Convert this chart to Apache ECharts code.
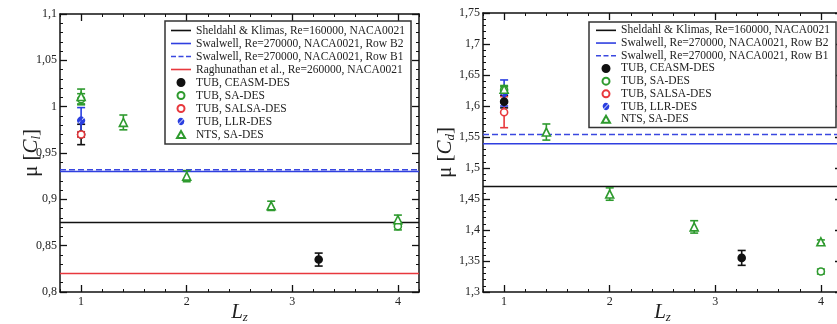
<!DOCTYPE html>
<html><head><meta charset="utf-8">
<script src="https://cdn.jsdelivr.net/npm/echarts@6/dist/echarts.min.js"></script>
<style>html,body{margin:0;padding:0;background:#fff}#c{width:837px;height:324px}</style>
</head><body><div id="c"></div>
<script>
// ---------- data ----------
const X_MIN = 0.8, X_MAX = 4.2;
const xTickValues = [1, 2, 3, 4];
const clYRange = [0.8, 1.1];
const cdYRange = [1.3, 1.75];
const yInterval = 0.05;

const refNames = [
  'Sheldahl & Klimas, Re=160000, NACA0021',
  'Swalwell, Re=270000, NACA0021, Row B2',
  'Swalwell, Re=270000, NACA0021, Row B1',
  'Raghunathan et al., Re=260000, NACA0021'
];
const clRefValues = [0.875, 0.930, 0.932, 0.820];
const cdRefValues = [1.470, 1.539, 1.554];

const pointNames = ['TUB, CEASM-DES', 'TUB, SA-DES', 'TUB, SALSA-DES', 'TUB, LLR-DES', 'NTS, SA-DES'];
// [Lz, mean, half error]
const clCEASM = [[1, 0.970, 0.011], [3.25, 0.835, 0.007]];
const clSA    = [[1, 1.008, 0.006], [4, 0.871, 0.004]];
const clSALSA = [[1, 0.970, 0.003]];
const clLLR   = [[1, 0.985, 0.014]];
const clNTS   = [[1, 1.011, 0.008], [1.4, 0.983, 0.008], [2, 0.925, 0.006], [2.8, 0.893, 0.005], [4, 0.878, 0.005]];

const cdCEASM = [[1, 1.607, 0.010], [3.25, 1.355, 0.012]];
const cdSA    = [[1, 1.626, 0.005], [4, 1.333, 0.004]];
const cdSALSA = [[1, 1.590, 0.025]];
const cdLLR   = [[1, 1.621, 0.021]];
const cdNTS   = [[1, 1.627, 0.006], [1.4, 1.558, 0.013], [2, 1.458, 0.010], [2.8, 1.405, 0.010], [4, 1.381, 0.003]];

// ---------- styles ----------
const FONT = "'Liberation Serif','Times New Roman',serif";
const TXT = '#222';
const SOLID_ICON = 'path://M0,0h20v1.6h-20z';
const DASH_ICON = 'path://M0,0h5v1.6h-5zM7.5,0h5v1.6h-5zM15,0h5v1.6h-5z';
const TRI_ICON = 'path://M4,0L8,7L0,7Z';
const SLASH_DISC = 'path://M1.161,8.203L8.203,1.161A5,5 0 0,0 1.161,8.203ZM8.839,1.797L1.797,8.839A5,5 0 0,0 8.839,1.797Z';
const refStyles = [
  {color: '#111', type: 'solid', icon: SOLID_ICON},
  {color: '#2f3fe0', type: 'solid', icon: SOLID_ICON},
  {color: '#3a48e0', type: 'dashed', icon: DASH_ICON},
  {color: '#e8383d', type: 'solid', icon: SOLID_ICON}
];
const pointStyles = [
  {symbol: 'circle', icon: 'circle', size: 7, fill: '#111', stroke: '#111', bw: 1.6, color: '#111'},
  {symbol: 'circle', icon: 'circle', size: 7, fill: '#fff', stroke: '#2e9a2e', bw: 1.6, color: '#2e9a2e'},
  {symbol: 'circle', icon: 'circle', size: 7, fill: '#fff', stroke: '#e8383d', bw: 1.6, color: '#e8383d'},
  {symbol: SLASH_DISC, icon: SLASH_DISC, size: 8, fill: '#2a3fe0', stroke: '#2a3fe0', bw: 0, color: '#2a3fe0'},
  {symbol: 'triangle', icon: TRI_ICON, size: 8, fill: '#fff', stroke: '#2e9a2e', bw: 1.6, color: '#2e9a2e'}
];

const fmt = v => String(+v.toFixed(2)).replace('.', ',');

function makeErr(color) {
  return function (params, api) {
    const x = api.value(0), y = api.value(1), e = api.value(2);
    const t = api.coord([x, y + e]), b = api.coord([x, y - e]);
    const hw = 4;
    const st = {stroke: color, lineWidth: 1.6, fill: null};
    return {type: 'group', children: [
      {type: 'line', shape: {x1: t[0], y1: t[1], x2: b[0], y2: b[1]}, style: st},
      {type: 'line', shape: {x1: t[0] - hw, y1: t[1], x2: t[0] + hw, y2: t[1]}, style: st},
      {type: 'line', shape: {x1: b[0] - hw, y1: b[1], x2: b[0] + hw, y2: b[1]}, style: st}
    ]};
  };
}

const grids = [
  {left: 60, top: 14, width: 359, height: 278, containLabel: false, outerBoundsMode: 'none'},
  {left: 483, top: 13, width: 359, height: 279, containLabel: false, outerBoundsMode: 'none'}
];

const xAxes = [], yAxes = [], series = [];
function axesFor(g, yr, yName) {
  const base = {type: 'value', gridIndex: g, min: X_MIN, max: X_MAX, splitLine: {show: false}};
  const lineStyle = {color: '#111', width: 1.5};
  xAxes.push(Object.assign({}, base, {position: 'bottom', interval: 0.2,
    axisLine: {show: true, lineStyle}, axisTick: {inside: true, length: 3, lineStyle: {color: '#111'}},
    axisLabel: {customValues: xTickValues, color: TXT, fontFamily: FONT, fontSize: 12, margin: 4},
    name: '{b|L}{s|z}', nameLocation: 'middle', nameGap: 9, nameMoveOverlap: false,
    nameTextStyle: {rich: {
      b: {fontFamily: FONT, fontSize: 21, fontStyle: 'italic', color: TXT, lineHeight: 22},
      s: {fontFamily: FONT, fontSize: 13, fontStyle: 'italic', color: TXT, lineHeight: 14, padding: [12, 0, 0, 0]}
    }}}));
  xAxes.push(Object.assign({}, base, {position: 'bottom', interval: 0.2,
    axisLine: {show: false}, axisTick: {inside: true, length: 7, customValues: xTickValues, lineStyle: {color: '#111', width: 1.3}},
    axisLabel: {show: false}}));
  xAxes.push(Object.assign({}, base, {position: 'top', interval: 0.2,
    axisLine: {show: true, lineStyle}, axisTick: {inside: true, length: 3, lineStyle: {color: '#111'}},
    axisLabel: {show: false}}));
  xAxes.push(Object.assign({}, base, {position: 'top', interval: 0.2,
    axisLine: {show: false}, axisTick: {inside: true, length: 7, customValues: xTickValues, lineStyle: {color: '#111', width: 1.3}},
    axisLabel: {show: false}}));
  const ybase = {type: 'value', gridIndex: g, min: yr[0], max: yr[1], interval: yInterval, splitLine: {show: false},
    axisLine: {show: true, lineStyle}, axisTick: {inside: true, length: 7, lineStyle: {color: '#111', width: 1.3}},
    minorTick: {show: true, splitNumber: 5, length: 3, lineStyle: {color: '#111'}}};
  yAxes.push(Object.assign({}, ybase, {position: 'left',
    axisLabel: {formatter: fmt, color: TXT, fontFamily: FONT, fontSize: 12, margin: 3},
    name: yName, nameLocation: 'middle', nameGap: g === 0 ? 18 : 27, nameMoveOverlap: false,
    nameTextStyle: {rich: {
      a: {fontFamily: FONT, fontSize: 21, color: TXT, lineHeight: 22},
      b: {fontFamily: FONT, fontSize: 21, fontStyle: 'italic', color: TXT, lineHeight: 22},
      s: {fontFamily: FONT, fontSize: 13, fontStyle: 'italic', color: TXT, lineHeight: 14, padding: [12, 0, 0, 0]}
    }}}));
  yAxes.push(Object.assign({}, ybase, {position: 'right', axisLabel: {show: false}}));
}
axesFor(0, clYRange, '{a|μ [}{b|C}{s|l}{a|]}');
axesFor(1, cdYRange, '{a|μ [}{b|C}{s|d}{a|]}');

function panel(g, refValues, sets) {
  const xi = g * 4, yi = g * 2;
  refValues.forEach((v, i) => {
    series.push({type: 'line', name: refNames[i], xAxisIndex: xi, yAxisIndex: yi,
      data: [[X_MIN, v], [X_MAX, v]], symbol: 'none', silent: true, z: 1,
      lineStyle: {color: refStyles[i].color, width: 1.5, type: refStyles[i].type},
      itemStyle: {color: refStyles[i].color}});
  });
  sets.forEach((set, i) => {
    const ps = pointStyles[i];
    series.push({type: 'custom', name: pointNames[i] + ' err' + g, xAxisIndex: xi, yAxisIndex: yi,
      data: set, encode: {x: 0, y: 1}, renderItem: makeErr(ps.color), z: 2, silent: true});
  });
  sets.forEach((set, i) => {
    const ps = pointStyles[i];
    series.push({type: 'scatter', name: pointNames[i], xAxisIndex: xi, yAxisIndex: yi,
      data: set.map(d => [d[0], d[1]]), symbol: ps.symbol, symbolSize: ps.size, symbolKeepAspect: true,
      z: 3, silent: true,
      itemStyle: {color: ps.fill, borderColor: ps.stroke, borderWidth: ps.bw, opacity: 1}});
  });
}
panel(0, clRefValues, [clCEASM, clSA, clSALSA, clLLR, clNTS]);
panel(1, cdRefValues, [cdCEASM, cdSA, cdSALSA, cdLLR, cdNTS]);

function legendData(nRef) {
  const refs = refNames.slice(0, nRef).map((n, i) => ({name: n, icon: refStyles[i].icon,
    itemStyle: {color: refStyles[i].color, borderWidth: 0}}));
  const pts = pointNames.map((n, i) => ({name: n, icon: pointStyles[i].icon}));
  return refs.concat(pts);
}

const legendBase = {orient: 'vertical', itemGap: 0, itemWidth: 20, itemHeight: 7,
  symbolKeepAspect: true,
  borderColor: '#333', borderWidth: 1.5, backgroundColor: '#fff', selectedMode: false,
  textStyle: {fontFamily: FONT, fontSize: 11.5, color: TXT, lineHeight: 13}};
const legends = [
  Object.assign({}, legendBase, {left: 165, top: 21, padding: [3, 6, 3, 6],
    data: legendData(4)}),
  Object.assign({}, legendBase, {left: 589, top: 22, padding: [2, 6, 2, 7],
    textStyle: Object.assign({}, legendBase.textStyle, {lineHeight: 12.7}),
    data: legendData(3)})
];

const chart = echarts.init(document.getElementById('c'), null, {renderer: 'canvas'});
chart.setOption({
  animation: false,
  backgroundColor: '#fff',
  grid: grids,
  xAxis: xAxes,
  yAxis: yAxes,
  legend: legends,
  series: series
});
</script></body></html>
